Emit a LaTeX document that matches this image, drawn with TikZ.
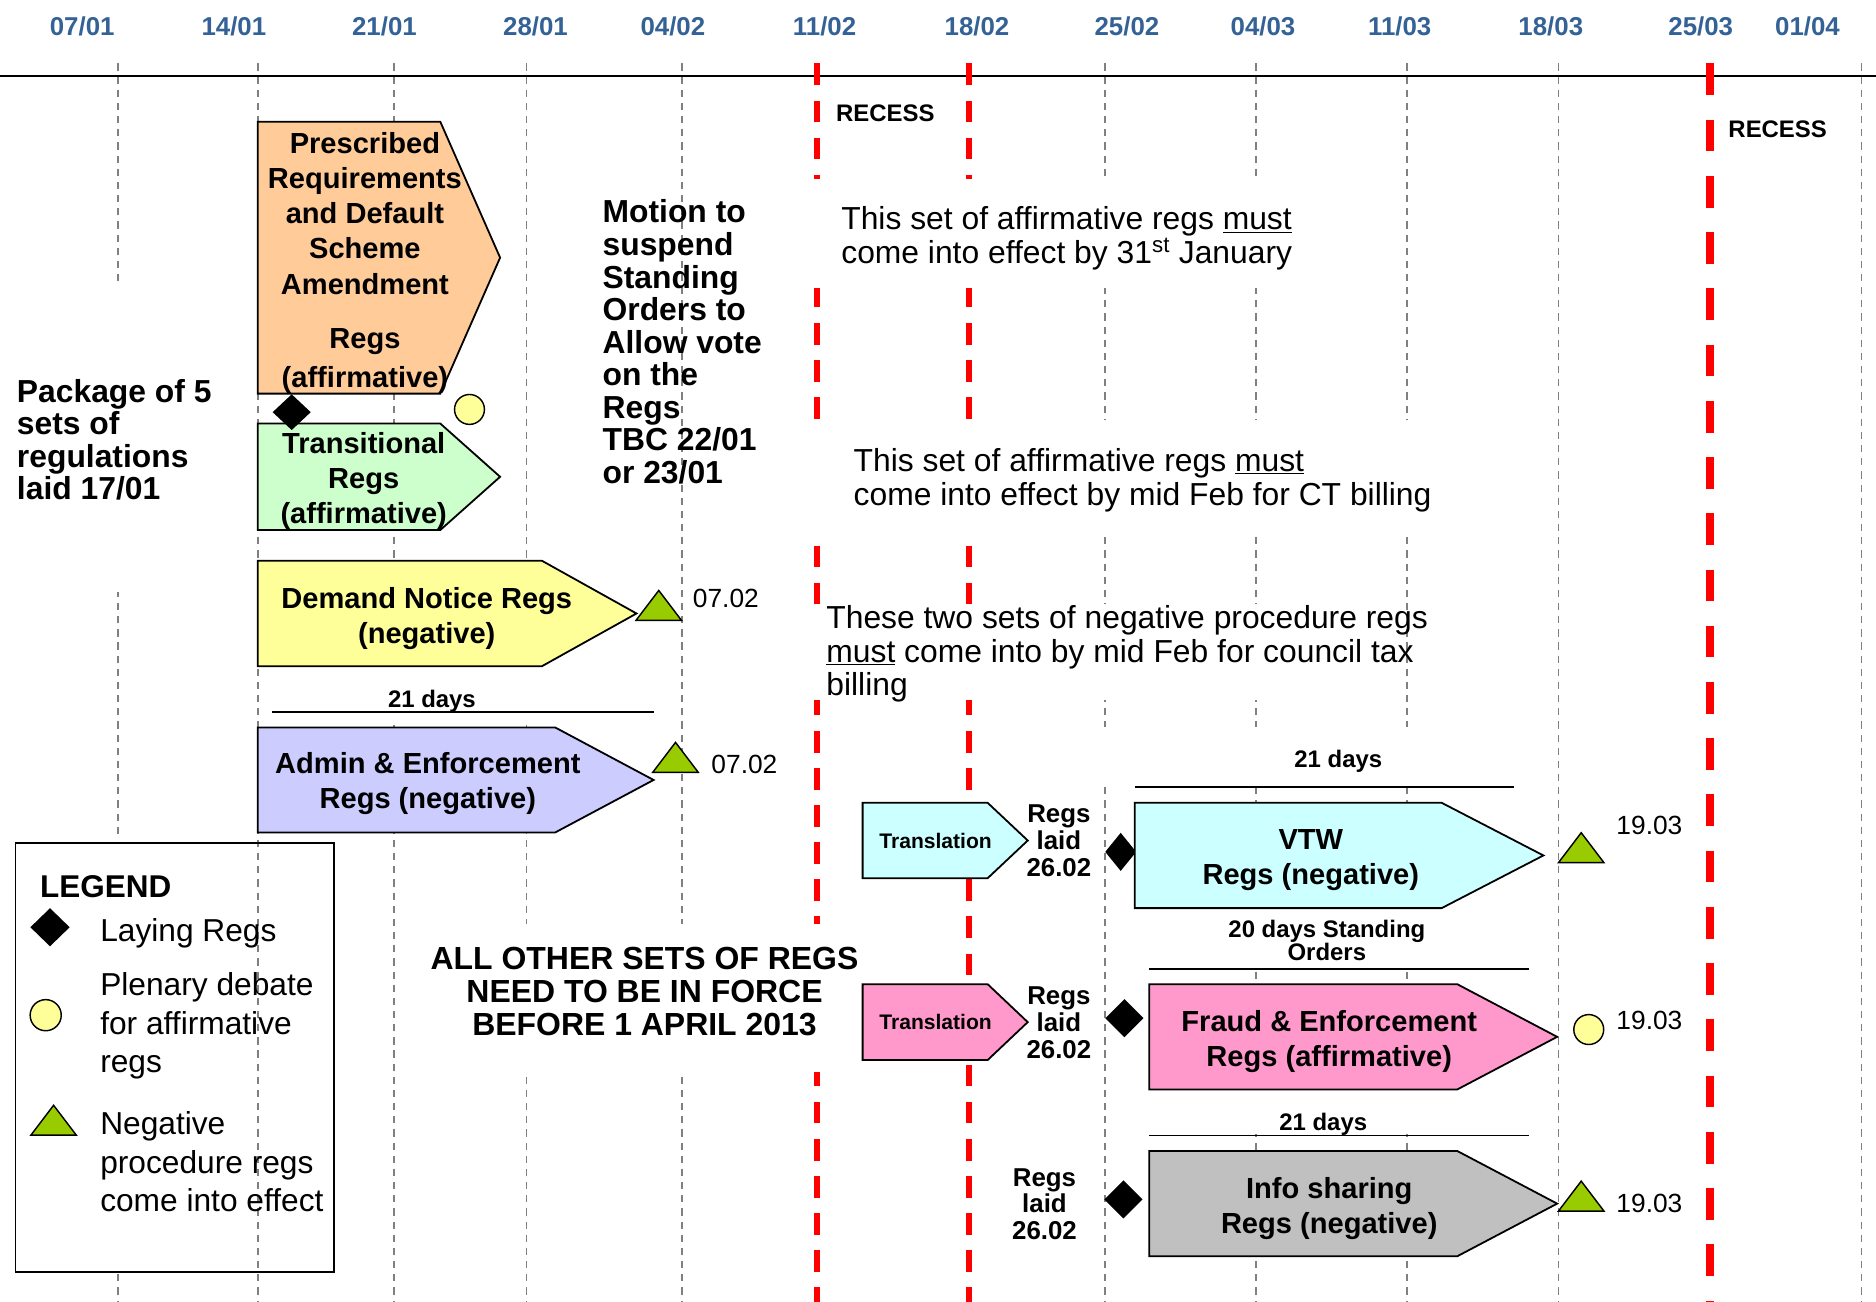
\documentclass[tikz,border=0pt]{standalone}
\usepackage{fontspec}
\setmainfont{Liberation Sans}
\usetikzlibrary{shapes.geometric}
\definecolor{fechaazul}{RGB}{52,98,150}
\definecolor{naranja}{HTML}{FFCC99}
\definecolor{verdeclaro}{HTML}{CCFFCC}
\definecolor{amarillo}{HTML}{FFFF99}
\definecolor{lavanda}{HTML}{CCCCFF}
\definecolor{cian}{HTML}{CCFFFF}
\definecolor{rosa}{HTML}{FF99CC}
\definecolor{gris}{HTML}{C0C0C0}
\definecolor{verdetri}{HTML}{99CC00}
\tikzstyle{fecha} = [text=fechaazul, font=\bfseries\fontsize{21.6}{24}\selectfont]
\tikzstyle{rejilla} = [gray, line width=1.3pt, dash pattern=on 6pt off 5pt]
\tikzstyle{receso} = [red, line width=4.7pt, dash pattern=on 18pt off 13pt]
\tikzstyle{recesofin} = [red, line width=6.7pt, dash pattern=on 26.5pt off 20.5pt]
\tikzstyle{mascara} = [fill=white]
\tikzstyle{caja} = [draw=black, line width=1.5pt]
\tikzstyle{regla} = [line width=1.5pt]
\tikzstyle{textocaja} = [align=center, inner sep=0pt, font=\bfseries\fontsize{24.3}{29.3}\selectfont]
\tikzstyle{notanegrita} = [align=left, anchor=west, inner sep=0pt, font=\bfseries\fontsize{26.6}{27.2}\selectfont]
\tikzstyle{nota} = [align=left, anchor=west, inner sep=0pt, font=\fontsize{26.6}{27.9}\selectfont]
\tikzstyle{aviso} = [align=center, inner sep=0pt, font=\bfseries\fontsize{26.7}{27.4}\selectfont]
\tikzstyle{recesotexto} = [inner sep=0pt, font=\bfseries\fontsize{20}{22}\selectfont]
\tikzstyle{dias} = [align=center, inner sep=0pt, font=\bfseries\fontsize{20}{20}\selectfont]
\tikzstyle{traduccion} = [inner sep=0pt, font=\bfseries\fontsize{17.6}{20}\selectfont]
\tikzstyle{laidtexto} = [align=center, inner sep=0pt, font=\bfseries\fontsize{21.6}{22.5}\selectfont]
\tikzstyle{fecharegs} = [inner sep=0pt, font=\fontsize{22}{24}\selectfont]
\tikzstyle{leyendatexto} = [align=left, anchor=west, inner sep=0pt, font=\fontsize{26.5}{32}\selectfont]
\tikzstyle{laido} = [diamond, fill=black, inner sep=0pt, minimum width=32pt, minimum height=32pt]
\tikzstyle{pleno} = [circle, draw=black, line width=1.2pt, fill=amarillo, inner sep=0pt, minimum size=25pt]
\tikzset{negativa/.pic={\draw[fill=verdetri, line width=1.2pt] (-19,12.5) -- (0,-12.5) -- (19,12.5) -- cycle;}}
\newcommand{\pentagono}[6]{\draw[caja, fill=#1] (#2,#3) -- (#4,#3) -- (#5,{(#3+#6)/2}) -- (#4,#6) -- (#2,#6) -- cycle;}

\begin{document}
\begin{tikzpicture}[x=1pt, y=-1pt]
\useasboundingbox (0,0) rectangle (1568,1088);

%% eje y fechas
\draw[line width=2pt] (0,63.5) -- (1568,63.5);
\foreach \x/\dia/\mes in {68.7/07/01, 195.5/14/01, 321.3/21/01, 447.6/28/01, 562.4/04/02, 689.2/11/02, 816.6/18/02, 941.9/25/02, 1055.6/04/03, 1169.9/11/03, 1296.2/18/03, 1421.5/25/03, 1510.7/01/04}
  \node[fecha] (f\dia\mes) at (\x,21.7) {\dia/\mes};

%% lineas de las semanas y recesos
\foreach \x in {98.7, 215.5, 329.3, 440, 569.9, 923.8, 1049.6, 1176, 1302.7, 1555.8}
  \draw[rejilla] (\x,53) -- (\x,1088);
\foreach \x in {682.6, 810}
  \draw[receso] (\x,53) -- (\x,1088);
\draw[recesofin] (1428.9,53) -- (1428.9,1088);
\foreach \xa/\ya/\xb/\yb in {10/240/190/495, 10/700/200/1064, 225/557/548/606, 336/772/700/896, 676/150/1110/241, 676/351/1200/446, 676/505/1110/585, 910/608/1272/657, 950/760/1285/809, 950/911/1285/948}
  \fill[mascara] (\xa,\ya) rectangle (\xb,\yb);

\node[recesotexto] (receso1) at (740,94.7) {RECESS};
\node[recesotexto] (receso2) at (1485.8,107.8) {RECESS};

%% cajas de regulaciones
\node[laido, minimum width=26pt] (laidvtw) at (936.7,712) {};
\pentagono{naranja}{215.5}{101.7}{368}{418}{329}
\pentagono{verdeclaro}{215.5}{354}{368}{418}{443}
\pentagono{amarillo}{215.5}{468.7}{453}{532}{556.8}
\pentagono{lavanda}{215.5}{608}{464}{546.3}{695.8}
\pentagono{cian}{721}{671}{825.5}{859}{734}
\pentagono{cian}{948.5}{671}{1205}{1290}{759}
\pentagono{rosa}{721}{822.6}{825.5}{859}{886}
\pentagono{rosa}{960.6}{822.6}{1218}{1301.5}{910.6}
\pentagono{gris}{960.6}{962}{1218}{1301.5}{1050}

\node[textocaja] (prescribed) at (305,219.8) {Prescribed\\Requirements\\and Default\\Scheme\\Amendment\\[16pt]Regs\\[3.3pt](affirmative)};
\node[textocaja] (transitional) at (304,402) {Transitional\\Regs\\(affirmative)};
\node[textocaja] (demand) at (356.7,516.6) {Demand Notice Regs\\(negative)};
\node[textocaja] (admin) at (357.6,654.9) {Admin \& Enforcement\\Regs (negative)};
\node[textocaja] (vtw) at (1095.6,718.5) {VTW\\Regs (negative)};
\node[textocaja] (fraud) at (1111,870.4) {Fraud \& Enforcement\\Regs (affirmative)};
\node[textocaja] (info) at (1111,1010.2) {Info sharing\\Regs (negative)};
\node[traduccion] (trad1) at (782,702.5) {Translation};
\node[traduccion] (trad2) at (782,854.3) {Translation};
\node[laidtexto] (laid1) at (885,703) {Regs\\laid\\26.02};
\node[laidtexto] (laid2) at (885,854.5) {Regs\\laid\\26.02};
\node[laidtexto] (laid3) at (873,1006.5) {Regs\\laid\\26.02};

%% marcas
\node[laido, minimum height=30pt] (laid0) at (243.8,344.5) {};
\node[laido] (laidfraud) at (939.8,851) {};
\node[laido] (laidinfo) at (939,1002.5) {};
\node[pleno] (plenoprescribed) at (392.4,342.2) {};
\node[pleno] (plenofraud) at (1327.9,860.5) {};
\pic at (550.6,506) {negativa};
\pic at (564.6,633) {negativa};
\pic at (1321.6,708.5) {negativa};
\pic at (1321.6,999.7) {negativa};
\node[fecharegs] (demandfin) at (606.7,500) {07.02};
\node[fecharegs] (adminfin) at (622.2,638.7) {07.02};
\node[fecharegs] (vtwfin) at (1378.6,689.7) {19.03};
\node[fecharegs] (fraudfin) at (1378.6,853.3) {19.03};
\node[fecharegs] (infofin) at (1378.6,1006) {19.03};

%% plazos
\node[dias] (dias1) at (361,585.9) {21 days};
\node[dias] (dias2) at (1118.6,636) {21 days};
\node[dias] (dias3) at (1109,786) {20 days Standing\\Orders};
\node[dias] (dias4) at (1106,939.8) {21 days};
\draw[regla] (227.6,595) -- (546.3,595);
\draw[regla] (948.5,658) -- (1265,658);
\draw[regla] (960.6,810) -- (1277.8,810);
\draw[regla] (960.6,949) -- (1278,949);

%% notas
\node[notanegrita] (paquete) at (14,367.5) {Package of 5\\sets of\\regulations\\laid 17/01};
\node[notanegrita] (mocion) at (503.5,285.8) {Motion to\\suspend\\Standing\\Orders to\\Allow vote\\on the\\Regs\\TBC 22/01\\or 23/01};
\node[nota] (afirm1) at (703,199.3) {This set of affirmative regs \underline{must}\\come into effect by 31\textsuperscript{st} January};
\node[nota] (afirm2) at (713.3,401.3) {This set of affirmative regs \underline{must}\\come into effect by mid Feb for CT billing};
\node[nota] (negativas) at (690.5,546.5) {These two sets of negative procedure regs\\\underline{must} come into by mid Feb for council tax\\billing};
\node[aviso] (resto) at (538.7,828.5) {ALL OTHER SETS OF REGS\\NEED TO BE IN FORCE\\BEFORE 1 APRIL 2013};

%% leyenda
\draw[caja] (13,704.5) rectangle (279.2,1063);
\node[inner sep=0pt, anchor=west, font=\bfseries\fontsize{26.3}{28}\selectfont] (leyenda) at (33.4,741.3) {LEGEND};
\node[laido, minimum width=33pt] (leydiamante) at (41.8,775) {};
\node[leyendatexto, anchor=base west] (leylaying) at (83.6,787) {Laying Regs};
\node[pleno, minimum size=26pt] (leycirculo) at (38.2,848.5) {};
\node[leyendatexto] (leypleno) at (83.6,857.5) {Plenary debate\\for affirmative\\regs};
\pic at (44.8,936.3) {negativa};
\node[leyendatexto] (leynegativa) at (83.6,971.1) {Negative\\procedure regs\\come into effect};

\end{tikzpicture}
\end{document}
